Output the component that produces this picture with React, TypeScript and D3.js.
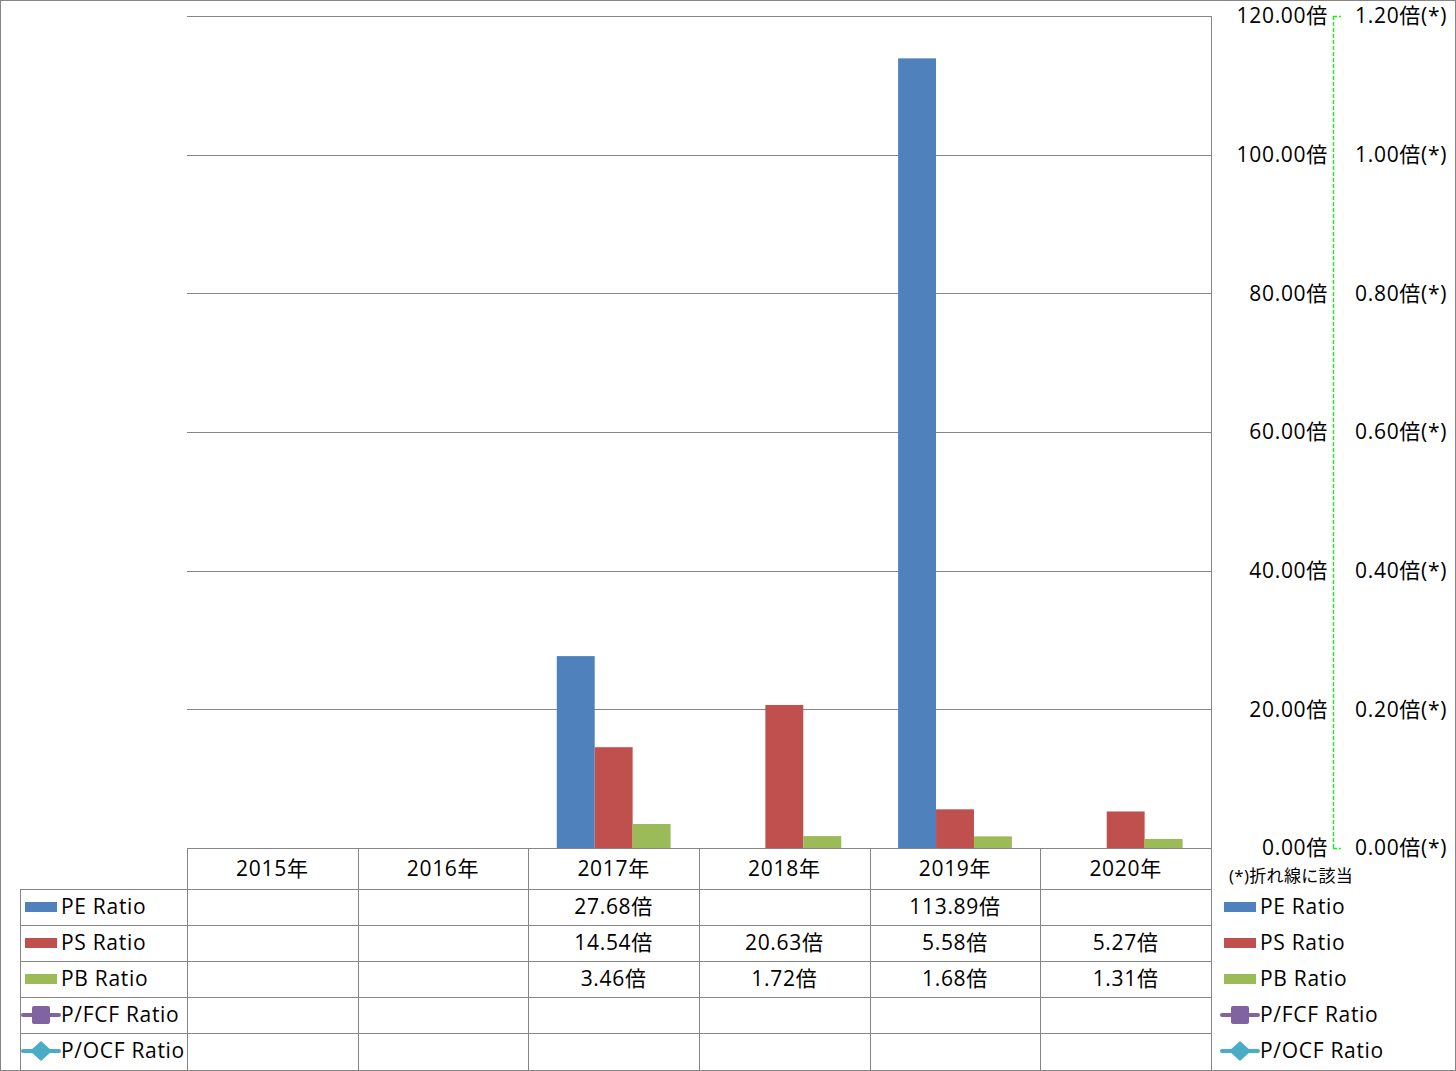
import React from "react";
import * as d3 from "d3";

const years = ["2015年", "2016年", "2017年", "2018年", "2019年", "2020年"];
const peRatio: (number | null)[] = [null, null, 27.68, null, 113.89, null];
const psRatio: (number | null)[] = [null, null, 14.54, 20.63, 5.58, 5.27];
const pbRatio: (number | null)[] = [null, null, 3.46, 1.72, 1.68, 1.31];
const pfcfRatio: (number | null)[] = [null, null, null, null, null, null];
const pocfRatio: (number | null)[] = [null, null, null, null, null, null];
const leftTicks = [0, 20, 40, 60, 80, 100, 120];
const rightTicks = [0, 0.2, 0.4, 0.6, 0.8, 1.0, 1.2];

const barSeries = [
  { name: "PE Ratio", values: peRatio, color: "#4F81BD" },
  { name: "PS Ratio", values: psRatio, color: "#C0504D" },
  { name: "PB Ratio", values: pbRatio, color: "#9BBB59" },
];
const lineSeries = [
  { name: "P/FCF Ratio", values: pfcfRatio, color: "#8064A2", marker: "square" },
  { name: "P/OCF Ratio", values: pocfRatio, color: "#4BACC6", marker: "diamond" },
];

const W = 1456;
const H = 1071;
const plotL = 187;
const plotR = 1211;
const plotT = 16;
const plotB = 848;
const headerB = 889;
const rowH = 36;
const tableL = 20;
const FONT = "'Open Sans', 'Noto Sans CJK JP', sans-serif";
const GRID = "#868686";
const FS = 21;
const LS = 0.7;

export default function App() {
  const x = d3.scaleBand<string>().domain(years).range([plotL, plotR]).padding(0);
  const y = d3.scaleLinear().domain([0, 120]).range([plotB, plotT]);
  const y2 = d3.scaleLinear().domain([0, 1.2]).range([plotB, plotT]);
  const bw = x.bandwidth() / (barSeries.length + 1.5);
  const groupOffset = (x.bandwidth() - bw * barSeries.length) / 2;

  const allRows = [...barSeries.map((s) => ({ ...s, kind: "bar" as const, marker: "" })), ...lineSeries.map((s) => ({ ...s, kind: "line" as const }))];

  const legendMarker = (s: any, lx: number, cy: number) => {
    if (s.kind === "bar") {
      return <rect x={lx + 2} y={cy - 5} width={32} height={10} fill={s.color} />;
    }
    return (
      <g>
        <line x1={lx} x2={lx + 36} y1={cy} y2={cy} stroke={s.color} strokeWidth={4} strokeLinecap="round" />
        {s.marker === "square" ? (
          <rect x={lx + 9} y={cy - 9} width={18} height={18} rx={2} fill={s.color} />
        ) : (
          <path d={`M${lx + 18},${cy - 10}L${lx + 29},${cy}L${lx + 18},${cy + 10}L${lx + 7},${cy}Z`} fill={s.color} />
        )}
      </g>
    );
  };

  return (
    <svg width={W} height={H} style={{ position: "absolute", left: 0, top: 0, background: "#fff" }} fontFamily={FONT} letterSpacing={LS}>
      <rect x={0.5} y={0.5} width={W - 1} height={H - 1} fill="#fff" stroke={GRID} strokeWidth={1} />
      {leftTicks.map((t) => (
        <line key={t} x1={plotL} x2={plotR} y1={Math.round(y(t)) + 0.5} y2={Math.round(y(t)) + 0.5} stroke={GRID} strokeWidth={1} />
      ))}
      <line x1={plotR + 0.5} x2={plotR + 0.5} y1={plotT} y2={plotB} stroke={GRID} strokeWidth={1} />
      {barSeries.map((s, si) =>
        s.values.map((v, i) =>
          v == null ? null : (
            <rect key={s.name + i} x={(x(years[i]) as number) + groupOffset + si * bw} y={y(v)} width={bw} height={y(0) - y(v)} fill={s.color} />
          )
        )
      )}
      {leftTicks.map((t) => (
        <text key={"l" + t} x={1328} y={y(t)} dy="0.35em" textAnchor="end" fontSize={FS} fill="#000">
          {t.toFixed(2)}倍
        </text>
      ))}
      <line x1={1333.5} x2={1333.5} y1={plotT} y2={plotB} stroke="#00FF00" strokeWidth={1.3} strokeDasharray="4,2" />
      <line x1={1333} x2={1341} y1={plotT + 0.5} y2={plotT + 0.5} stroke="#00FF00" strokeWidth={1.3} strokeDasharray="4,2" />
      <line x1={1333} x2={1341} y1={plotB + 0.5} y2={plotB + 0.5} stroke="#00FF00" strokeWidth={1.3} strokeDasharray="4,2" />
      {rightTicks.map((t) => (
        <text key={"r" + t} x={1355} y={y2(t)} dy="0.35em" textAnchor="start" fontSize={FS} fill="#000">
          {t.toFixed(2)}倍(*)
        </text>
      ))}
      <line x1={plotL} x2={plotR} y1={plotB + 0.5} y2={plotB + 0.5} stroke={GRID} />
      {allRows.map((_, r) => (
        <line key={"h" + r} x1={tableL} x2={plotR} y1={headerB + r * rowH + 0.5} y2={headerB + r * rowH + 0.5} stroke={GRID} />
      ))}
      <line x1={tableL + 0.5} x2={tableL + 0.5} y1={headerB} y2={H - 1} stroke={GRID} />
      {years.map((yr, i) => (
        <line key={"v" + i} x1={Math.round(x(yr) as number) + 0.5} x2={Math.round(x(yr) as number) + 0.5} y1={plotB} y2={H - 1} stroke={GRID} />
      ))}
      <line x1={plotR + 0.5} x2={plotR + 0.5} y1={plotB} y2={H - 1} stroke={GRID} />
      {years.map((yr) => (
        <text key={"t" + yr} x={(x(yr) as number) + x.bandwidth() / 2} y={(plotB + headerB) / 2} dy="0.35em" textAnchor="middle" fontSize={FS}>
          {yr}
        </text>
      ))}
      {allRows.map((s, r) => {
        const cy = headerB + r * rowH + rowH / 2;
        return (
          <g key={"row" + s.name}>
            {legendMarker(s, tableL + 3, cy)}
            <text x={61} y={cy} dy="0.35em" fontSize={FS}>
              {s.name}
            </text>
            {s.values.map((v, i) =>
              v == null ? null : (
                <text key={i} x={(x(years[i]) as number) + x.bandwidth() / 2} y={cy} dy="0.35em" textAnchor="middle" fontSize={FS}>
                  {v.toFixed(2)}倍
                </text>
              )
            )}
          </g>
        );
      })}
      <text x={1229} y={876} dy="0.35em" fontSize={17} letterSpacing={0.3}>
        (*)折れ線に該当
      </text>
      {allRows.map((s, r) => {
        const cy = headerB + r * rowH + rowH / 2;
        return (
          <g key={"rl" + s.name}>
            {legendMarker(s, 1222, cy)}
            <text x={1260} y={cy} dy="0.35em" fontSize={FS}>
              {s.name}
            </text>
          </g>
        );
      })}
    </svg>
  );
}
